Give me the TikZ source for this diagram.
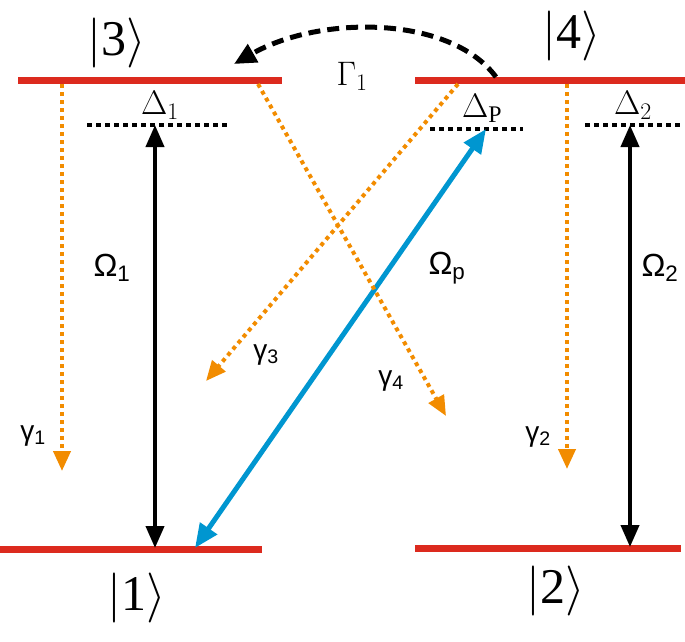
\RequirePackage{fix-cm}
\documentclass[tikz,border=0pt]{standalone}
\usepackage{fontspec}
\setmainfont{Liberation Serif}
\newfontfamily\labsf{Liberation Sans}
\usetikzlibrary{arrows.meta}
\definecolor{lvred}{HTML}{DC2A1E}
\definecolor{decor}{HTML}{F28C00}
\definecolor{probe}{HTML}{0096D0}
\tikzset{
  level/.style={draw=lvred, line width=7pt},
  detline/.style={draw=black, line width=4pt, dash pattern=on 5pt off 4pt},
  coupling/.style={draw=black, line width=4pt, {Triangle[length=22pt,width=18pt]}-{Triangle[length=22pt,width=18pt]}},
  probearrow/.style={draw=probe, line width=5pt, {Triangle[length=24pt,width=20pt]}-{Triangle[length=24pt,width=20pt]}},
  decay/.style={draw=decor, line width=4pt, dash pattern=on 4pt off 4pt, -{Triangle[length=20pt,width=17pt]}},
  relax/.style={draw=black, line width=5pt, dash pattern=on 12pt off 7pt, -{Triangle[length=22pt,width=20pt]}},
  ket/.style={font=\fontsize{50}{50}\selectfont, inner sep=0pt},
  sflab/.style={font=\labsf\fontsize{32}{32}\selectfont, inner sep=0pt},
  gamlab/.style={font=\labsf\fontsize{28}{28}\selectfont, inner sep=0pt},
  detlab/.style={font=\fontsize{34}{34}\selectfont, inner sep=0pt},
}
\begin{document}
\begin{tikzpicture}[x=1pt,y=-1pt]
\useasboundingbox (0,0) rectangle (685,641);
% levels
\coordinate (l3a) at (18,80);  \coordinate (l3b) at (282,80);
\coordinate (l4a) at (415,80); \coordinate (l4b) at (685,80);
\coordinate (l1a) at (0,549);  \coordinate (l1b) at (262,549);
\coordinate (l2a) at (415,548); \coordinate (l2b) at (681,548);
\draw[level] (l3a) -- (l3b);
\draw[level] (l4a) -- (l4b);
\draw[level] (l1a) -- (l1b);
\draw[level] (l2a) -- (l2b);
% detuning lines
\coordinate (d1a) at (87,125); \coordinate (d1b) at (228,125);
\coordinate (dpa) at (430,129); \coordinate (dpb) at (523,129);
\coordinate (d2a) at (585,125); \coordinate (d2b) at (681,125);
\draw[detline] (d1a) -- (d1b);
\draw[detline] (dpa) -- (dpb);
\draw[detline] (d2a) -- (d2b);
% couplings
\coordinate (o1t) at (155,125); \coordinate (o1b) at (155,548);
\coordinate (o2t) at (630,125); \coordinate (o2b) at (630,547);
\coordinate (opt) at (486,129); \coordinate (opb) at (195,548);
\draw[coupling] (o1b) -- (o1t);
\draw[coupling] (o2b) -- (o2t);
\draw[probearrow] (opb) -- (opt);
% decays
\coordinate (g1s) at (62,84);  \coordinate (g1e) at (62,471);
\coordinate (g2s) at (567,84); \coordinate (g2e) at (567,469);
\coordinate (g3s) at (458,84); \coordinate (g3e) at (206,381);
\coordinate (g4s) at (258,84); \coordinate (g4e) at (446,416);
\draw[decay] (g1s) -- (g1e);
\draw[decay] (g2s) -- (g2e);
\draw[decay] (g3s) -- (g3e);
\draw[decay] (g4s) -- (g4e);
% Gamma_1
\coordinate (G1s) at (496,77); \coordinate (G1e) at (234,64);
\draw[relax] (G1s) .. controls (450,15) and (320,15) .. (G1e);
% labels
\node[ket] (k3) at (117,43) {$|$3$\rangle$};
\node[ket] (k4) at (572,36) {$|$4$\rangle$};
\node[ket] (k1) at (137,598) {$|$1$\rangle$};
\node[ket] (k2) at (556,591) {$|$2$\rangle$};
\node[detlab] (D1) at (160,105) {$\Delta_{1}$};
\node[detlab] (DP) at (482,108) {$\Delta_{\mathrm{P}}$};
\node[detlab] (D2) at (633,105) {$\Delta_{2}$};
\node[font=\fontsize{34}{34}\selectfont, inner sep=0pt] (G1) at (352,76) {$\Gamma_{1}$};
\node[sflab] (O1) at (112,268) {Ω\textsubscript{1}};
\node[sflab] (OP) at (447,268) {Ω\textsubscript{p}};
\node[sflab] (O2) at (660,268) {Ω\textsubscript{2}};
\node[gamlab] (y1) at (33,436) {γ\textsubscript{1}};
\node[gamlab] (y2) at (538,437) {γ\textsubscript{2}};
\node[gamlab] (y3) at (266,355) {γ\textsubscript{3}};
\node[gamlab] (y4) at (391,381) {γ\textsubscript{4}};
\end{tikzpicture}
\end{document}
